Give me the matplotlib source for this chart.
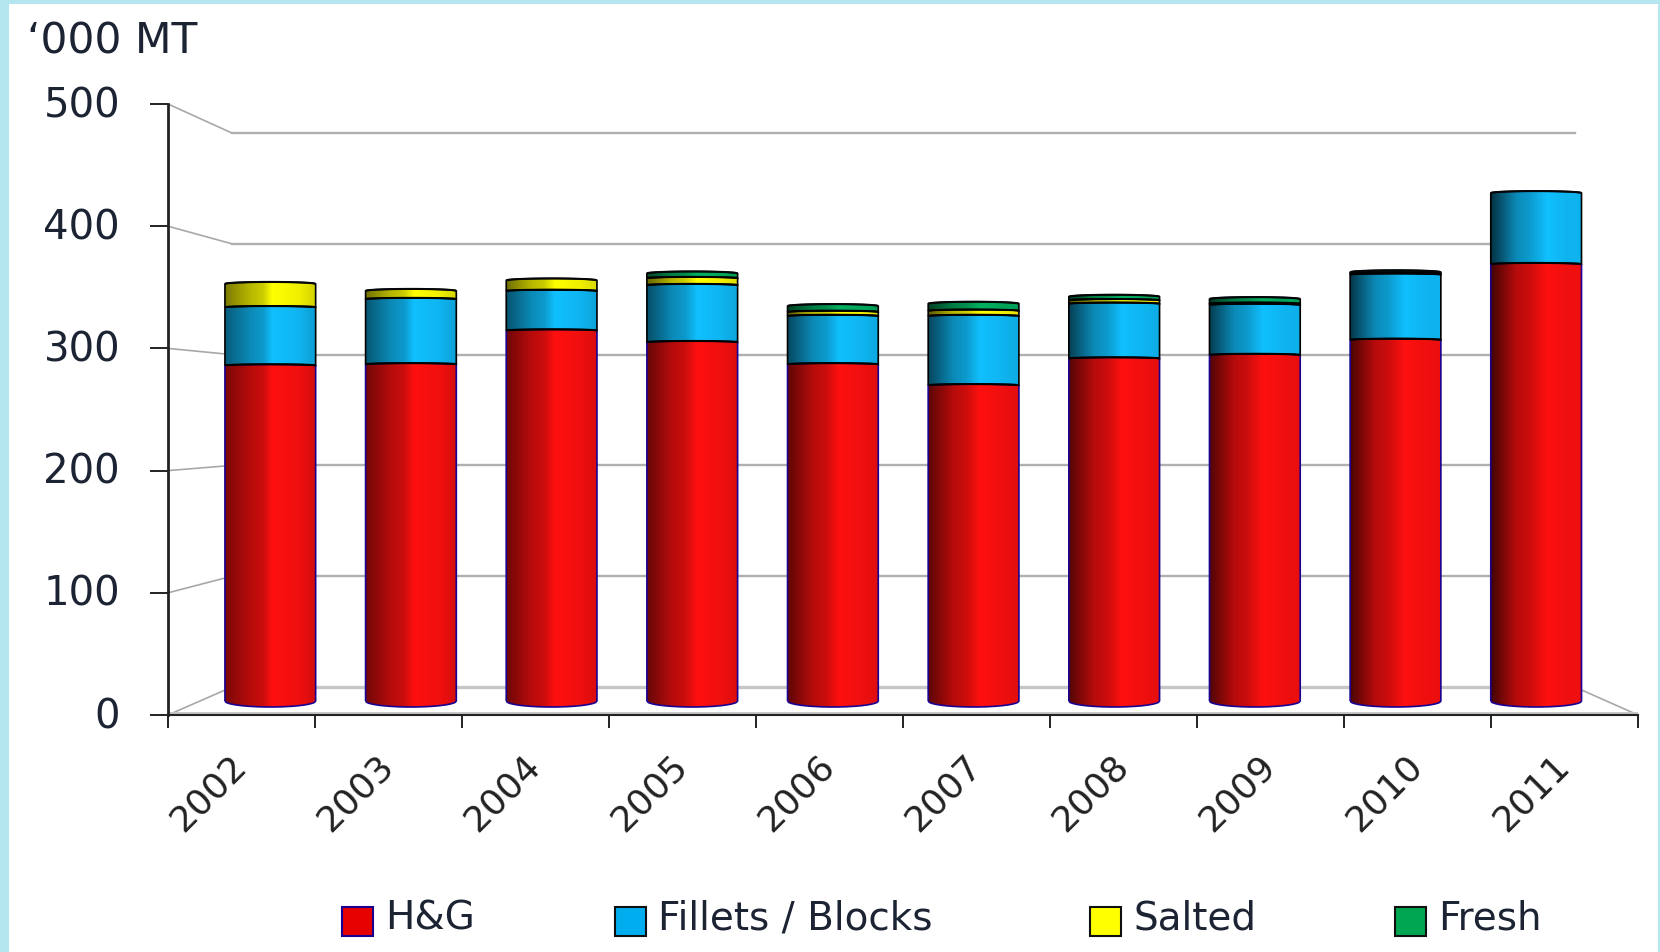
import numpy as np
import matplotlib
matplotlib.use("Agg")
import matplotlib.pyplot as plt
from matplotlib.patches import Rectangle, PathPatch
from matplotlib.path import Path
from matplotlib.legend_handler import HandlerPatch
from matplotlib.transforms import ScaledTranslation

years = ["2002", "2003", "2004", "2005", "2006", "2007", "2008", "2009", "2010", "2011"]
hg = [288, 289, 318, 308, 289, 271, 294, 297, 310, 375]
fillets = [50, 56, 34, 49, 41.5, 59.5, 47, 43, 56, 61]
salted = [20, 7, 9, 6, 3.5, 4.5, 3, 1, 1, 0]
fresh = [0, 0, 0, 4, 5, 6, 3, 4, 1, 0]
y_ticks = [0, 100, 200, 300, 400, 500]
series_names = ["H&G", "Fillets / Blocks", "Salted", "Fresh"]

W, H = 1660, 953
AX_L, AX_R, AX_T, AX_B = 168, 1638, 105, 716
PX_X = (AX_R - AX_L) / 10
PX_Y = (AX_B - AX_T) / 500
TEXT = "#1c2333"

plt.rcParams["font.family"] = ["DejaVu Sans"]
fig = plt.figure(figsize=(W / 100, H / 100), dpi=100, facecolor="white")
ax = fig.add_axes([AX_L / W, 1 - AX_B / H, (AX_R - AX_L) / W, (AX_B - AX_T) / H])
ax.set_xlim(0, 10)
ax.set_ylim(0, 500)
ax.set_autoscale_on(False)


def px(x, v, depth):
    """Project a category position / value at a depth (0 front, 1 back wall) to data space."""
    return x * (1 - 0.0864 * depth) + 0.435 * depth, v * (1 - 0.0933 * depth) + 22.9 * depth


# Back wall and slanted grid lines
for v in y_ticks:
    x0, y0 = px(0, v, 0)
    x1, y1 = px(0, v, 1)
    x2, y2 = px(10, v, 1)
    col, lw = ("#c6c6c6", 2.4) if v == 0 else ("#b0b0b0", 1.7)
    ax.plot([x0, x1], [y0, y1], color="#a8a8a8", lw=1.2, zorder=1)
    ax.plot([x1, x2], [y1, y2], color=col, lw=lw, zorder=1)
xr0, yr0 = px(10, 0, 0)
xr1, yr1 = px(10, 0, 1)
ax.plot([xr0, xr1], [yr0, yr1], color="#a8a8a8", lw=1.2, zorder=1)
ax.plot([0, 10], [1.6, 1.6], color="#c6c6c6", lw=1.4, zorder=1)


def gradient(rgb, i):
    """Horizontal cylinder shading: dark left, highlight right of centre."""
    c = np.array(matplotlib.colors.to_rgb(rgb))
    f = i / 9
    peak = 0.52 + 0.10 * f
    stops_x = [0, 0.28, 0.42, peak, 0.82, 1]
    stops_v = [0.48 - 0.22 * f, 0.72, 0.80, 1.0, 0.94, 0.82 + 0.12 * f]
    t = np.linspace(0, 1, 256)
    v = np.interp(t, stops_x, stops_v)
    return np.clip(c[None, None, :] * v[None, :, None], 0, 1)


BAR_W = 0.645
DEPTH = 0.5
BOW_TOP = 2.0 / PX_Y
BOW_BOTTOM = 6.0 / PX_Y
series = [hg, fillets, salted, fresh]
colors = ["#ff1010", "#10c0ff", "#ffff00", "#00b060"]
edges = ["#1a0090", "#000000", "#000000", "#000000"]

t = np.linspace(-1, 1, 81)
arc = np.sqrt(1 - t ** 2)
for i in range(len(years)):
    base = 0.0
    for s, vals in enumerate(series):
        h = vals[i]
        if h <= 0:
            continue
        top = base + h
        xc, y0 = px(i + 0.5, base, DEPTH)
        _, y1 = px(i + 0.5, top, DEPTH)
        xs = xc + t * BAR_W * (1 - 0.0864 * DEPTH) / 2
        low = y0 + (-BOW_BOTTOM * arc if s == 0 else BOW_TOP * arc * 0.6)
        up = y1 + BOW_TOP * arc * (1.0 if top == sum(q[i] for q in series) else 0.6)
        vx = np.r_[xs, xs[::-1], xs[0]]
        vy = np.r_[low, up[::-1], low[0]]
        poly = PathPatch(Path(np.c_[vx, vy]), fc="none",
                         ec=edges[s], lw=1.2, zorder=3 + s * 0.1)
        ax.add_patch(poly)
        im = ax.imshow(gradient(colors[s], i), extent=[xs[0], xs[-1], low.min(), up.max()],
                       aspect="auto", interpolation="bilinear", zorder=2.9 + s * 0.1)
        im.set_clip_path(poly)
        ax.plot(xs, up, color="#05060a", lw=1.5, zorder=3.05 + s * 0.1, solid_capstyle="butt")
        base = top

ax.set_xlim(0, 10)
ax.set_ylim(0, 500)

# Axes
ax.spines["top"].set_visible(False)
ax.spines["right"].set_visible(False)
ax.spines["left"].set_linewidth(2.0)
ax.spines["bottom"].set_linewidth(1.5)
ax.spines["left"].set_color("#222222")
ax.spines["bottom"].set_color("#222222")
ax.set_zorder(2)
ax.patch.set_alpha(0)
ax.set_yticks(y_ticks)
ax.set_yticklabels([str(v) for v in y_ticks], fontsize=29, color=TEXT)
ax.tick_params(axis="y", length=13, width=1.4, color="#222222", pad=21.5)
for lab in ax.get_yticklabels():
    lab.set_transform(lab.get_transform() + ScaledTranslation(0, 2.5 / 72, fig.dpi_scale_trans))
ax.set_xticks(np.arange(11))
ax.set_xticklabels([""] * 11)
ax.tick_params(axis="x", which="major", length=9, width=1.4, color="#222222")
ax.set_xticks(np.arange(10) + 0.276, minor=True)
ax.set_xticklabels(years, minor=True, rotation=45, ha="center", va="top",
                   fontsize=26, color="#222222")
ax.tick_params(axis="x", which="minor", length=0, pad=23.4)

fig.text(27 / W, 1 - 53 / H, "\u2018000 MT", fontsize=30.5, color=TEXT, ha="left", va="baseline")


# Legend: squares sit a little below the text baseline
def square(legend, orig_handle, xdescent, ydescent, width, height, fontsize):
    return Rectangle((-xdescent, -ydescent - 4.6), width, height)


legend_cols = ["#e60000", "#00aeef", "#ffff00", "#00a651"]
legend_edges = ["#1a0090", "#101010", "#101010", "#101010"]
handles = [Rectangle((0, 0), 1, 1, fc=c, ec=e, lw=1.5) for c, e in zip(legend_cols, legend_edges)]
common = dict(ncol=2, frameon=False, fontsize=28, labelcolor=TEXT, loc="lower left",
              borderpad=0, borderaxespad=0, handlelength=0.8, handleheight=0.77,
              handletextpad=0.31, handler_map={Rectangle: HandlerPatch(patch_func=square)})
fig.legend(handles[:2], series_names[:2], bbox_to_anchor=(342 / W, 1 - 938 / H),
           columnspacing=3.6, **common)
fig.legend(handles[2:], series_names[2:], bbox_to_anchor=(1090 / W, 1 - 938 / H),
           columnspacing=3.56, **common)

# Page background strips
for rect in [(0, 0, 9 / W, 1), (0, 1 - 5 / H, 1, 5 / H), (1 - 2 / W, 0, 2 / W, 1)]:
    fig.add_artist(Rectangle(rect[:2], rect[2], rect[3], transform=fig.transFigure,
                             fc="#b4e6ef", ec="none", zorder=10))

fig.savefig("out.png", dpi=100)
